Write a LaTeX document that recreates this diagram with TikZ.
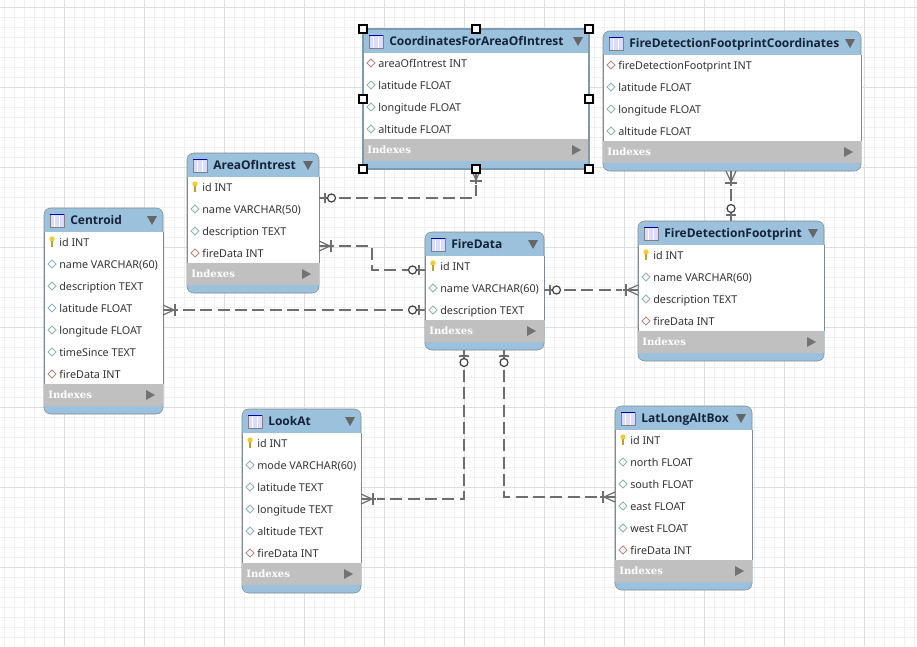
\documentclass[tikz,border=0pt]{standalone}
\usepackage{fontspec}
\setmainfont{Noto Sans}
\newfontfamily\titlefont{Open Sans}
\newfontfamily\idxfont{DejaVu Serif}
\definecolor{headblue}{HTML}{9BC1DC}
\definecolor{idxgrey}{HTML}{C0C0C0}
\definecolor{relgrey}{HTML}{6E6E6E}
\definecolor{edgegrey}{HTML}{7F8A92}
\definecolor{coldiamond}{HTML}{8DB4B4}
\definecolor{fkdiamond}{HTML}{B5877C}
\definecolor{bulb}{HTML}{F2CB2E}
\definecolor{titleink}{HTML}{13233A}
\tikzset{
  tablebody/.style={draw=edgegrey,fill=headblue,rounded corners=5pt,inner sep=0,outer sep=0,anchor=north west},
  tabletitle/.style={inner sep=0,anchor=west,text=titleink,text height=7pt,text depth=2pt,font=\fontsize{9}{11}\selectfont\titlefont\bfseries},
  rowtext/.style={inner sep=0,anchor=west,text=black!80,text height=6.5pt,text depth=2pt,font=\fontsize{8.1}{10}\selectfont},
  idxtext/.style={inner sep=0,anchor=west,text=white,text height=6pt,text depth=1pt,font=\fontsize{7.6}{10}\selectfont\idxfont\bfseries},
  relline/.style={draw=relgrey,line width=1.5pt,dash pattern=on 9pt off 4pt,shorten <=15pt,shorten >=12pt},
  handle/.style={draw=black,fill=white,line width=.8pt,minimum size=6pt,inner sep=0,outer sep=0},
  pics/colicon/.style={code={\draw[coldiamond,fill=white,line width=.6pt] (-4,0) -- (0,-4) -- (4,0) -- (0,4) -- cycle;}},
  pics/fkicon/.style={code={\draw[fkdiamond,fill=white,line width=.6pt] (-4,0) -- (0,-4) -- (4,0) -- (0,4) -- cycle;}},
  pics/keyicon/.style={code={\fill[bulb] (0,-3) circle (2.7);\fill[bulb!80!black] (-1,-1) rectangle (1,5);}},
  pics/crow/.style={code={
    \draw[relgrey,line width=.9pt] (0,-5) -- (11,0) -- (0,5);
    \draw[relgrey,line width=1.2pt] (12,-6) -- (12,6);
    \draw[relgrey,line width=1.5pt] (0,0) -- (15,0);}},
  pics/zeroone/.style={code={
    \draw[relgrey,line width=1.5pt] (0,0) -- (9,0);
    \draw[relgrey,line width=1.2pt] (6,-5) -- (6,5);
    \draw[black!75,fill=white,line width=.9pt] (12.5,0) circle (4);}},
}
% name, left, top, right, number of rows, title, rows
\newcommand{\dbtable}[7]{
  \node[tablebody,minimum width={(#4-#2)*0.75pt},minimum height={(22*#5+52)*0.75pt}] (#1) at (#2,#3) {};
  \fill[white] (#2,#3+24) rectangle (#4,#3+22+22*#5);
  \draw[edgegrey,line width=.6pt] (#2,#3+24) -- (#2,#3+22+22*#5) (#4,#3+24) -- (#4,#3+22+22*#5);
  \fill[idxgrey] (#2,#3+22+22*#5) rectangle (#4,#3+44+22*#5);
  % table icon
  \draw[black!50,fill=blue!14,line width=.5pt] (#2+6,#3+6) rectangle (#2+20,#3+19);
  \draw[blue!65!black,line width=1.1pt] (#2+6,#3+6.5) -- (#2+20,#3+6.5);
  \draw[white,line width=.6pt] (#2+10.5,#3+8) -- (#2+10.5,#3+19) (#2+15,#3+8) -- (#2+15,#3+19);
  \node[tabletitle] (#1-title) at (#2+26,#3+13.5) {#6};
  \fill[black!60] (#4-16,#3+8) -- (#4-6,#3+8) -- (#4-11,#3+17) -- cycle;
  \foreach \kind/\txt [count=\i] in {#7} {
    \pic at (#2+8,#3+12+22*\i) {\kind};
    \node[rowtext] (#1-\i) at (#2+15,#3+13+22*\i) {\txt};
  }
  \node[idxtext] (#1-idx) at (#2+4,#3+33.5+22*#5) {Indexes};
  \fill[black!55] (#4-17,#3+28+22*#5) -- (#4-8,#3+33+22*#5) -- (#4-17,#3+38+22*#5) -- cycle;
}

\begin{document}
\begin{tikzpicture}[x=0.75pt,y=-0.75pt]
\useasboundingbox (0,0) rectangle (917,646);
% grid
\fill[white] (0,0) rectangle (917,646);
\foreach \x in {4.5,14.5,...,914.5} \draw[black!6,line width=.5pt] (\x,0) -- (\x,646);
\foreach \y in {7.5,17.5,...,640} \draw[black!6,line width=.5pt] (0,\y) -- (917,\y);
\foreach \x in {64.5,144.5,...,914.5} \draw[black!13,line width=.6pt] (\x,0) -- (\x,646);
\foreach \y in {7.5,87.5,...,640} \draw[black!13,line width=.6pt] (0,\y) -- (917,\y);

% tables
\dbtable{coordarea}{363}{29}{589}{4}{CoordinatesForAreaOfIntrest}{fkicon/areaOfIntrest INT,colicon/latitude FLOAT,colicon/longitude FLOAT,colicon/altitude FLOAT}
\dbtable{footcoord}{603}{31}{861}{4}{FireDetectionFootprintCoordinates}{fkicon/fireDetectionFootprint INT,colicon/latitude FLOAT,colicon/longitude FLOAT,colicon/altitude FLOAT}
\dbtable{area}{187}{153}{319}{4}{AreaOfIntrest}{keyicon/id INT,colicon/name VARCHAR(50),colicon/description TEXT,fkicon/fireData INT}
\dbtable{centroid}{44}{208}{163}{7}{Centroid}{keyicon/id INT,colicon/name VARCHAR(60),colicon/description TEXT,colicon/latitude FLOAT,colicon/longitude FLOAT,colicon/timeSince TEXT,fkicon/fireData INT}
\dbtable{firedata}{425}{232}{544}{3}{FireData}{keyicon/id INT,colicon/name VARCHAR(60),colicon/description TEXT}
\dbtable{footprint}{638}{221}{824}{4}{FireDetectionFootprint}{keyicon/id INT,colicon/name VARCHAR(60),colicon/description TEXT,fkicon/fireData INT}
\dbtable{lookat}{242}{409}{361}{6}{LookAt}{keyicon/id INT,colicon/mode VARCHAR(60),colicon/latitude TEXT,colicon/longitude TEXT,colicon/altitude TEXT,fkicon/fireData INT}
\dbtable{latlong}{615}{406}{752}{6}{LatLongAltBox}{keyicon/id INT,colicon/north FLOAT,colicon/south FLOAT,colicon/east FLOAT,colicon/west FLOAT,fkicon/fireData INT}

% connectors
\draw[relline] (area.east |- 0,198) -| (coordarea.south);
\draw[relline] (area.east |- 0,246) -| (372,258) |- (firedata.west |- 0,270);
\draw[relline] (centroid.east |- 0,310) -- (firedata.west |- 0,310);
\draw[relline] (firedata.east |- 0,290) -- (footprint.west |- 0,290);
\draw[relline] (464,0 |- firedata.south) |- (lookat.east |- 0,499);
\draw[relline] (504,0 |- firedata.south) |- (latlong.west |- 0,497);
\draw[relline] (footprint.north) -- (footprint.north |- footcoord.south);

% line ends
\pic at (area.east |- 0,198) {zeroone};
\pic[rotate=-90] at (coordarea.south) {crow};
\pic at (area.east |- 0,246) {crow};
\pic[rotate=180] at (firedata.west |- 0,270) {zeroone};
\pic at (centroid.east |- 0,310) {crow};
\pic[rotate=180] at (firedata.west |- 0,310) {zeroone};
\pic at (firedata.east |- 0,290) {zeroone};
\pic[rotate=180] at (footprint.west |- 0,290) {crow};
\pic[rotate=-90] at (464,0 |- firedata.south) {zeroone};
\pic at (lookat.east |- 0,499) {crow};
\pic[rotate=-90] at (504,0 |- firedata.south) {zeroone};
\pic[rotate=180] at (latlong.west |- 0,497) {crow};
\pic[rotate=90] at (footprint.north) {zeroone};
\pic[rotate=-90] at (footprint.north |- footcoord.south) {crow};

% selected table
\draw[headblue!80!black,line width=1.2pt,rounded corners=3pt] (coordarea.north west) rectangle (coordarea.south east);
\foreach \a [count=\n] in {north west,north,north east,west,east,south west,south,south east}
  \node[handle] (sel\n) at (coordarea.\a) {};
\end{tikzpicture}
\end{document}
